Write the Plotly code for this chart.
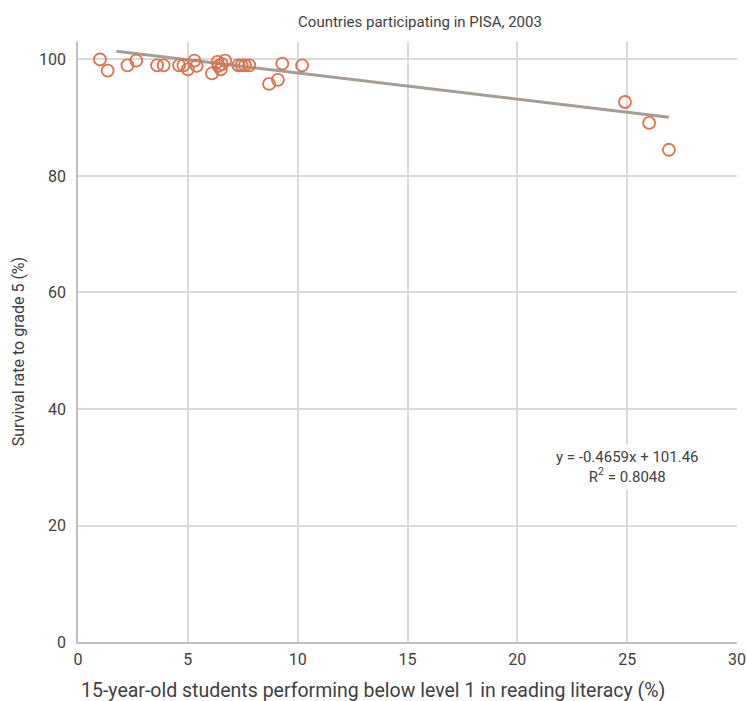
import plotly.graph_objects as go

# Data
below_level1 = [1.0, 1.35, 2.25, 2.65, 3.6, 3.9, 4.6, 4.8, 5.0, 5.3, 5.4,
                6.1, 6.35, 6.4, 6.5, 6.55, 6.7, 7.3, 7.45, 7.6, 7.8,
                8.7, 9.1, 9.3, 10.2, 24.9, 26.0, 26.9]
survival_rate = [100.0, 98.1, 99.0, 99.8, 99.0, 99.0, 99.0, 99.0, 98.3, 99.8, 98.9,
                 97.6, 99.6, 98.9, 98.3, 99.2, 99.8, 99.0, 99.0, 99.0, 99.0,
                 95.8, 96.5, 99.3, 99.0, 92.7, 89.1, 84.5]

# Linear trend line (as drawn in the reference)
trend_x = [1.75, 26.9]
trend_y = [101.4, 90.1]
equation_text = "y = -0.4659x + 101.46<br>R<sup>2</sup> = 0.8048"

x_ticks = [0, 5, 10, 15, 20, 25, 30]
y_ticks = [0, 20, 40, 60, 80, 100]

FONT = "Roboto, sans-serif"
TXT = "#404040"

fig = go.Figure()
fig.add_trace(go.Scatter(
    x=trend_x, y=trend_y, mode="lines",
    line=dict(color="#a59d94", width=3),
    hoverinfo="skip", showlegend=False))
fig.add_trace(go.Scatter(
    x=below_level1, y=survival_rate, mode="markers",
    marker=dict(symbol="circle-open", size=12, color="#d8734f",
                line=dict(color="#d8734f", width=1.8)),
    cliponaxis=False, showlegend=False))

fig.add_annotation(x=25.0, y=30.0, xref="x", yref="y",
                   text=equation_text, showarrow=False,
                   font=dict(family=FONT, size=15, color=TXT),
                   align="center", xanchor="center", yanchor="middle",
                   bgcolor="white", borderpad=3)

# Axis titles placed as annotations
fig.add_annotation(x=0.4477, y=-0.08, xref="paper", yref="paper",
                   text="15-year-old students performing below level 1 in reading literacy (%)",
                   showarrow=False, xanchor="center", yanchor="middle",
                   font=dict(family=FONT, size=19.5, color=TXT))
fig.add_annotation(x=-0.091, y=0.483, xref="paper", yref="paper",
                   text="Survival rate to grade 5 (%)", textangle=-90,
                   showarrow=False, xanchor="center", yanchor="middle",
                   font=dict(family=FONT, size=16, color=TXT))

fig.update_layout(
    width=747, height=701,
    margin=dict(l=78, r=10, t=42, b=59, autoexpand=False),
    paper_bgcolor="white", plot_bgcolor="white",
    font=dict(family=FONT, size=15, color=TXT),
    title=dict(text="Countries participating in PISA, 2003", x=420 / 747, xanchor="center",
               y=1 - 22 / 701, yanchor="middle", xref="container", yref="container",
               font=dict(family=FONT, size=15, color=TXT)),
    xaxis=dict(range=[0, 30], tickvals=x_ticks, showgrid=True, gridcolor="#d9d9d9",
               gridwidth=1.5, showline=True, linecolor="#bfbfbf", linewidth=1.5,
               zeroline=False, ticks="", automargin=False, ticklabelstandoff=2,
               tickfont=dict(size=16, color=TXT)),
    yaxis=dict(range=[0, 103], tickvals=y_ticks, showgrid=True, gridcolor="#d9d9d9",
               gridwidth=1.5, showline=True, linecolor="#bfbfbf", linewidth=1.5,
               zeroline=False, ticks="", automargin=False, ticklabelstandoff=7,
               tickfont=dict(size=16, color=TXT)),
)
fig.write_html("out.html", config={"displayModeBar": False},
               post_script="document.body.style.margin='0';document.body.style.overflow='hidden';")
